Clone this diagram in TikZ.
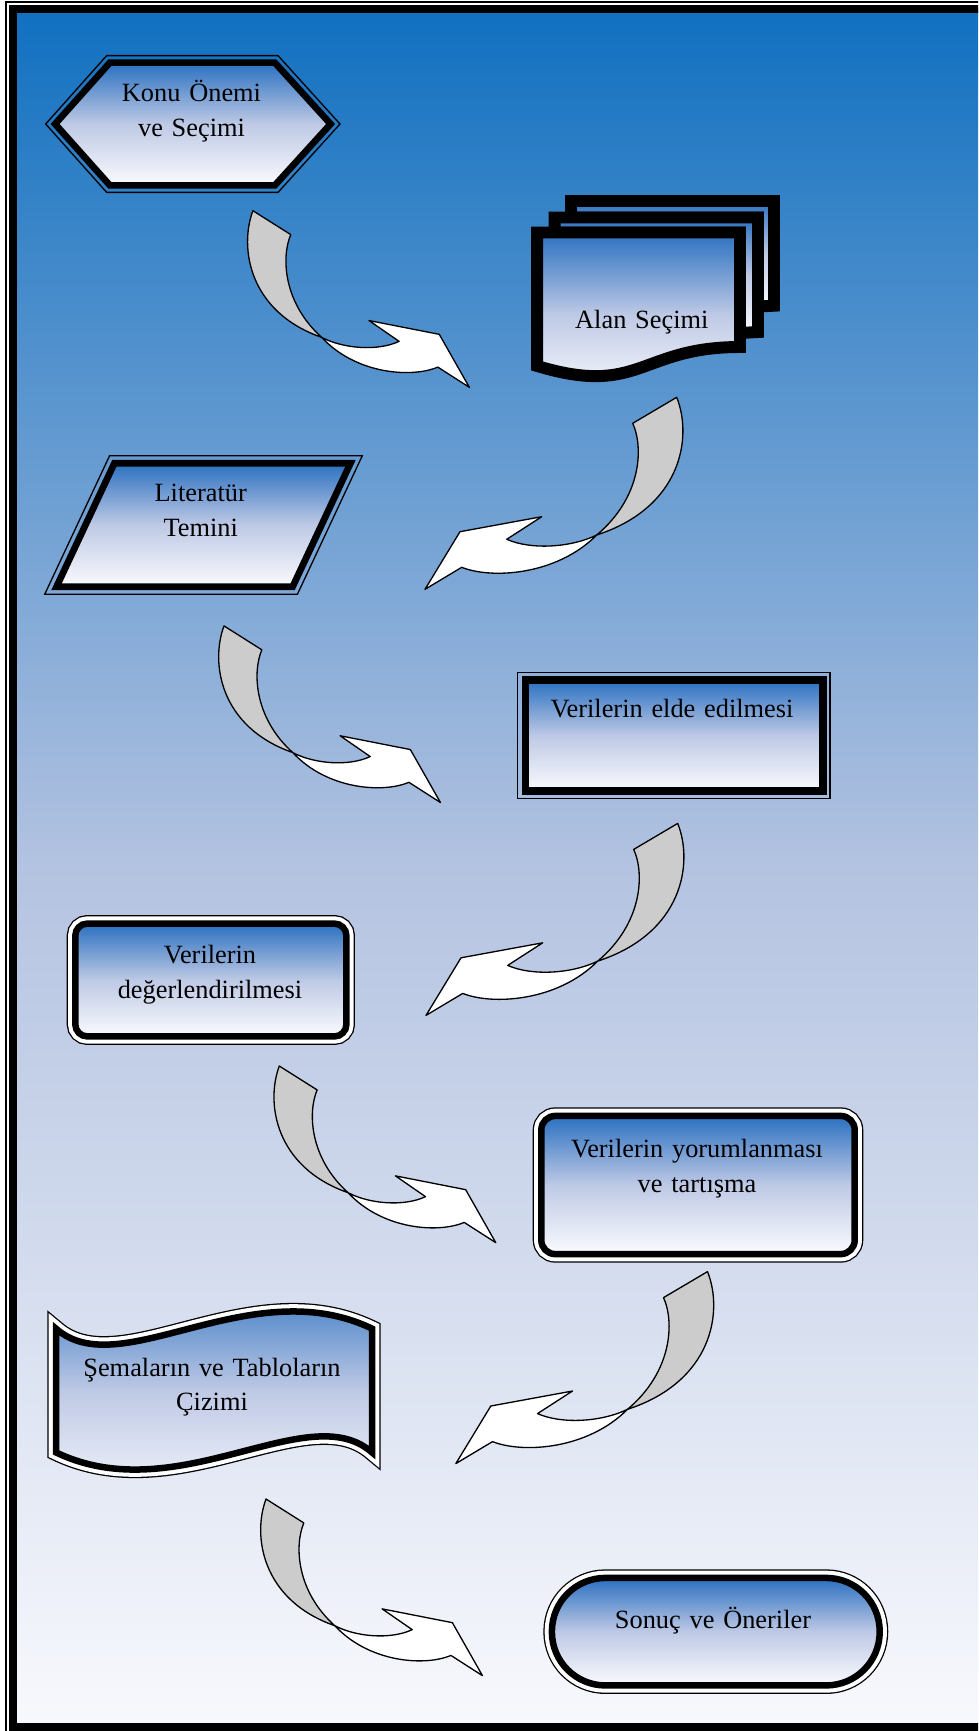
\documentclass[tikz,border=0pt]{standalone}
\usepackage{fontspec}
\setmainfont{Liberation Serif}
\usepackage{tikz}

\definecolor{bgtop}{RGB}{16,112,192}
\definecolor{bgmid}{RGB}{180,195,225}
\definecolor{bgbot}{RGB}{248,249,253}
\definecolor{boxtop}{RGB}{42,112,192}
\definecolor{boxmid}{RGB}{190,201,229}
\definecolor{boxbot}{RGB}{250,251,254}
\definecolor{arrowgrey}{RGB}{204,204,204}

\newcommand{\flowarrow}{%
	\filldraw[arrowline, fill=arrowgrey] (0,0) -- (44,26) .. controls (33,50) and (35,100) .. (80,137.7)
		.. controls (-5,110) and (-16,40) .. (0,0) -- cycle;
	\filldraw[arrowline, fill=white] (80,137.7) .. controls (105,150) and (145,153) .. (170,142)
		-- (135,119.4) -- (216.7,134.4) -- (251.7,192) -- (215,170)
		.. controls (185,182) and (120,178) .. (80,137.7) -- cycle;
}

\begin{document}
\begin{tikzpicture}[x=0.02cm, y=-0.02cm,
		thinline/.style={draw=black, line width=0.75pt},
		boxfill/.style={top color=boxtop, bottom color=boxbot, middle color=boxmid},
		thickline/.style={boxfill, draw=black, line width=3.8pt},
		pageline/.style={boxfill, draw=black, line width=6.8pt},
		gapline/.style={boxfill, draw=black, line width=3.7pt,
			preaction={draw=black, line width=9.75pt},
			preaction={draw=white, line width=8.28pt}},
		arrowline/.style={draw=black, line width=0.75pt, line join=round},
		lbl/.style={font=\fontsize{15pt}{19.8pt}\selectfont, text width=6.4cm, align=center, anchor=base, inner sep=0pt}]

		\useasboundingbox (0,0) rectangle (978,1731);
		\clip (0,0) rectangle (978,1731);
		\shade[top color=bgtop, bottom color=bgbot, middle color=bgmid] (12.85,8.85) rectangle (1000,1727);
		\draw[line width=4.37pt] (12.85,8.85) rectangle (1000,1727);
		\draw[line width=0.96pt] (5.85,1.85) rectangle (1010,1734.5);

		\draw[thinline] (45.7,124) -- (106.7,55.6) -- (278,55.6) -- (340,124) -- (278,192.4) -- (106.7,192.4) -- cycle;
		\draw[thickline] (55.1,124) -- (109.9,62.6) -- (274.8,62.6) -- (330.6,124) -- (274.8,185.4) -- (109.9,185.4) -- cycle;
		\node[lbl] (konu) at (191.5,101.7) {Konu Önemi\\ve Seçimi};

		\draw[pageline] (571,217.5) -- (571,201) -- (774,201) -- (774,305.7) -- (758,306.5) -- (758,217.5) -- cycle;
		\draw[pageline] (554.6,232.5) -- (554.6,217.5) -- (758,217.5) -- (758,332) -- (740,333) -- (740,232.5) -- cycle;
		\draw[pageline] (537.2,232.5) -- (740,232.5) -- (740,347) .. controls (640,347) and (640,397) .. (537.2,366) -- cycle;
		\node[lbl] (alan) at (641.8,328.5) {Alan Seçimi};

		\draw[thinline] (109.6,455.7) -- (362.3,455.7) -- (297.4,594.3) -- (44.7,594.3) -- cycle;
		\draw[thickline] (114.4,463.2) -- (350.5,463.2) -- (292.6,586.8) -- (56.5,586.8) -- cycle;
		\node[lbl] (literatur) at (200.7,501.7) {Literatür\\Temini};

		\draw[thinline] (517.3,672.7) rectangle (830,798.3);
		\draw[thickline, line width=4.3pt] (525.5,680.2) rectangle (822.9,791.2);
		\node[lbl] (elde) at (672,717.3) {Verilerin elde edilmesi};

		\draw[gapline, rounded corners=0.24cm] (75.3,923.6) rectangle (346.4,1036.4);
		\node[lbl] (deger) at (210,963.5) {Verilerin\\değerlendirilmesi};

		\draw[gapline, rounded corners=0.28cm] (541.3,1115.9) rectangle (854.7,1254.1);
		\node[lbl] (yorum) at (697,1157.3) {Verilerin yorumlanması\\ve tartışma};

		\draw[gapline] (56,1328.6) .. controls (120,1385) and (250,1270) .. (372,1328.6) -- (372,1452.4) .. controls (308,1396) and (178,1511) .. (56,1452.4) -- cycle;
		\node[lbl] (sema) at (212,1376) {Şemaların ve Tabloların\\Çizimi};

		\draw[gapline, rounded corners=1.07cm] (551.9,1577.9) rectangle (879.7,1685.4);
		\node[lbl] (sonuc) at (713,1628.3) {Sonuç ve Öneriler};

		\begin{scope}[shift={(252.9,210.7)}, xscale=0.86, yscale=0.92] \flowarrow \end{scope}
		\begin{scope}[shift={(676.7,397.3)}, xscale=-1] \flowarrow \end{scope}
		\begin{scope}[shift={(224,625.9)}, xscale=0.86, yscale=0.92] \flowarrow \end{scope}
		\begin{scope}[shift={(677.7,823.4)}, xscale=-1] \flowarrow \end{scope}
		\begin{scope}[shift={(279.3,1066)}, xscale=0.86, yscale=0.92] \flowarrow \end{scope}
		\begin{scope}[shift={(707.5,1271.6)}, xscale=-1] \flowarrow \end{scope}
		\begin{scope}[shift={(266,1499)}, xscale=0.86, yscale=0.92] \flowarrow \end{scope}
	\end{tikzpicture}
\end{document}
